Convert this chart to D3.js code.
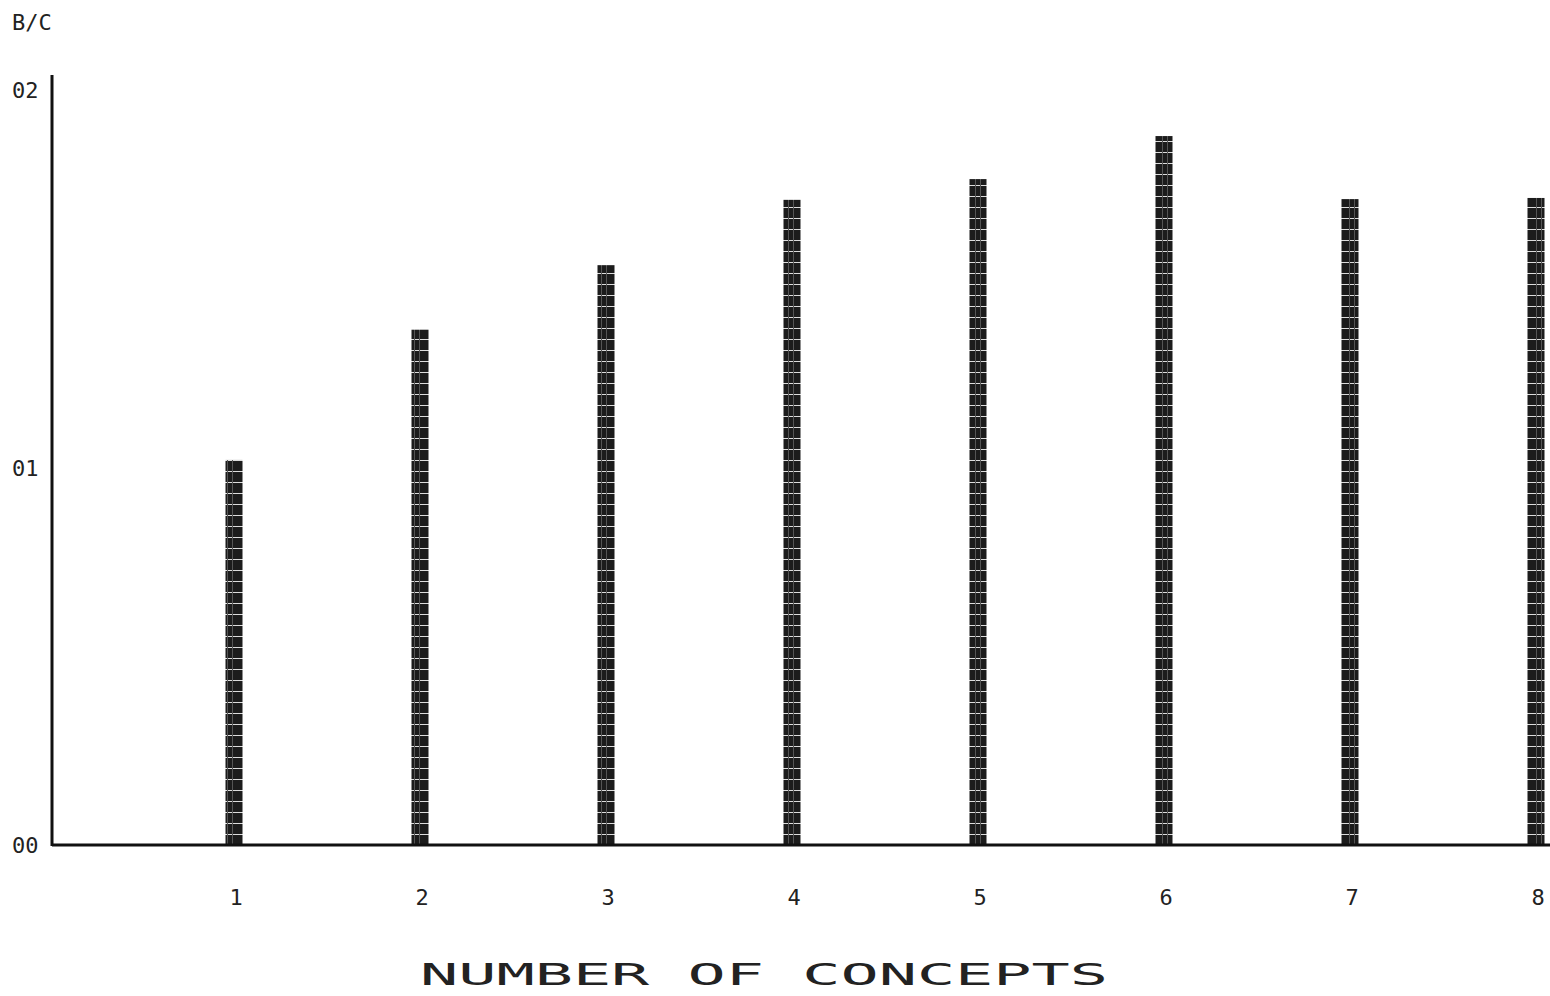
<!DOCTYPE html>
<html>
<head>
<meta charset="utf-8">
<script src="https://cdn.jsdelivr.net/npm/d3@7"></script>
<style>
  body { margin: 0; background: #fff; }
  text { font-family: "DejaVu Sans Mono", monospace; fill: #222; }
</style>
</head>
<body>
<div id="chart"></div>
<script>
const concepts = [1, 2, 3, 4, 5, 6, 7, 8];
const bcValues = [1.02, 1.365, 1.536, 1.709, 1.764, 1.878, 1.711, 1.714];
const yTicks = [0, 1, 2];
const yTickLabels = ["00", "01", "02"];

const W = 1550, H = 996;
const svg = d3.select("#chart").append("svg")
    .attr("width", W)
    .attr("height", H);

const x = d3.scaleLinear().domain([0, 8]).range([48, 1536]);
const y = d3.scaleLinear().domain([0, 2]).range([845, 90]);
const axisX = 52;

// stripe pattern to mimic the printer fill
const defs = svg.append("defs");
const pat = defs.append("pattern")
    .attr("id", "stripes")
    .attr("patternUnits", "userSpaceOnUse")
    .attr("width", 17)
    .attr("height", 11);
pat.append("rect").attr("width", 17).attr("height", 11).attr("fill", "#1c1c1c");
pat.append("rect").attr("x", 0).attr("y", 9).attr("width", 17).attr("height", 1).attr("fill", "#ddd");
pat.append("rect").attr("x", 6).attr("y", 0).attr("width", 1).attr("height", 11).attr("fill", "#555");
pat.append("rect").attr("x", 11).attr("y", 0).attr("width", 1).attr("height", 11).attr("fill", "#555");

const barW = 17;
svg.selectAll(".bar")
    .data(concepts)
    .enter()
    .append("rect")
    .attr("class", "bar")
    .attr("x", (d, i) => x(d) - barW / 2)
    .attr("y", (d, i) => y(bcValues[i]))
    .attr("width", barW)
    .attr("height", (d, i) => y(0) - y(bcValues[i]))
    .attr("fill", "url(#stripes)");

// axes lines
svg.append("line")
    .attr("x1", axisX).attr("x2", axisX)
    .attr("y1", 75).attr("y2", y(0) + 1)
    .attr("stroke", "#111").attr("stroke-width", 3);
svg.append("line")
    .attr("x1", axisX).attr("x2", W)
    .attr("y1", y(0)).attr("y2", y(0))
    .attr("stroke", "#111").attr("stroke-width", 3);

// y tick labels
svg.selectAll(".ylab")
    .data(yTicks)
    .enter()
    .append("text")
    .attr("class", "ylab")
    .attr("x", 12)
    .attr("y", d => y(d) + 8)
    .style("font-size", "22px")
    .text((d, i) => yTickLabels[i]);

// x tick labels
svg.selectAll(".xlab")
    .data(concepts)
    .enter()
    .append("text")
    .attr("class", "xlab")
    .attr("x", d => x(d) + 2)
    .attr("y", 905)
    .attr("text-anchor", "middle")
    .style("font-size", "22px")
    .text(d => d);

svg.append("text")
    .attr("x", 12)
    .attr("y", 30)
    .style("font-size", "22px")
    .text("B/C");

svg.append("text")
    .attr("x", 420)
    .attr("y", 985)
    .style("font-size", "30px")
    .attr("textLength", 688)
    .attr("lengthAdjust", "spacingAndGlyphs")
    .text("NUMBER OF CONCEPTS");
</script>
</body>
</html>
